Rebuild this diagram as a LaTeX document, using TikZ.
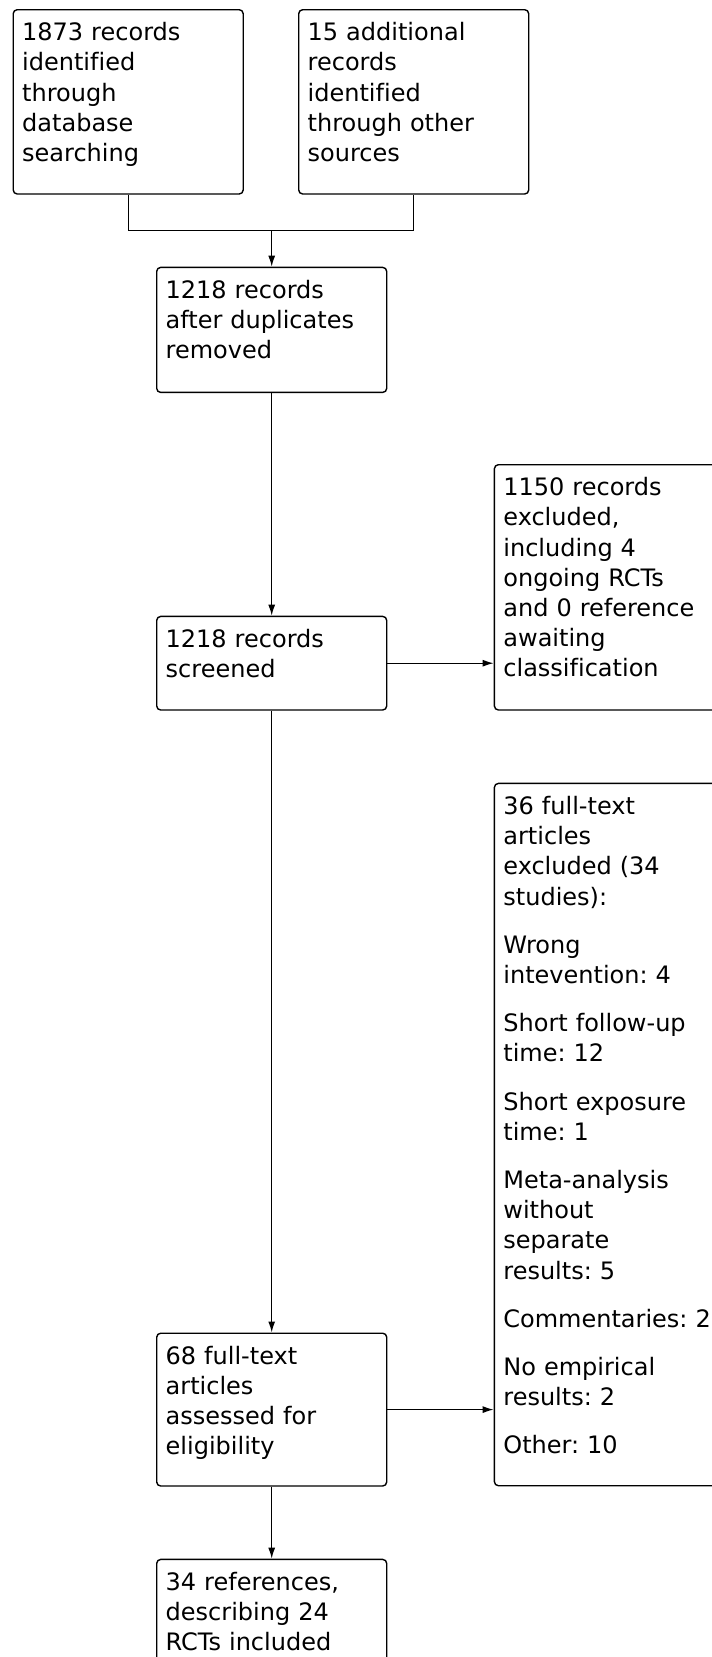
\documentclass[tikz,border=0pt]{standalone}
\usepackage{fontspec}
\setmainfont{DejaVu Sans}[Ligatures=NoCommon]
\usetikzlibrary{arrows.meta}
\frenchspacing

\begin{document}
\begin{tikzpicture}[x=1pt, y=-1pt, line width=1.4pt,
  font=\fontsize{24}{30.2}\selectfont,
  box/.style={draw, rounded corners=4pt, anchor=north west, align=left,
    text width=212pt, inner xsep=9pt, inner ysep=0pt, text height=31pt},
  arr/.style={-{Latex[length=11pt,width=7pt]}}]
\clip (0,0) rectangle (712,1657);

\node[box, text depth=153.3pt] (dbrec) at (12.5,9) {1873 records\\identified\\through\\database\\searching};
\node[box, text depth=153.3pt] (otherrec) at (298,9) {15 additional\\records\\identified\\through other\\sources};
\node[box, text depth=94pt] (dedup) at (156,266.7) {1218 records\\after duplicates\\removed};
\node[box, text depth=62.6pt] (screen) at (156,615.7) {1218 records\\screened};
\node[box, text depth=214.3pt] (excl) at (493.7,464) {1150 records\\excluded,\\including 4\\ongoing RCTs\\and 0 reference\\awaiting\\classification};
\node[box, text depth=121.8pt] (fulltext) at (156,1332.5) {68 full-text\\articles\\assessed for\\eligibility};
\node[box, text depth=671.3pt] (ftexcl) at (493.7,782.7) {36 full-text\\articles\\excluded (34\\studies):\\[18pt]
  Wrong\\intevention: 4\\[18pt]
  Short follow-up\\time: 12\\[18pt]
  Short exposure\\time: 1\\[18pt]
  Meta-analysis\\without\\separate\\results: 5\\[18pt]
  Commentaries: 2\\[18pt]
  No empirical\\results: 2\\[18pt]
  Other: 10};
\node[box, text depth=119pt] (incl) at (156,1558.7) {34 references,\\describing 24\\RCTs included};

\coordinate (join) at (dedup.north |- 0,230.7);
\draw (dbrec.south) |- (join) -| (otherrec.south);
\draw[arr] (join) -- (dedup.north);
\draw[arr] (dedup) -- (screen);
\draw[arr] (screen.east) -- (screen.east -| excl.west);
\draw[arr] (screen) -- (fulltext);
\draw[arr] (fulltext.east) -- (fulltext.east -| ftexcl.west);
\draw[arr] (fulltext) -- (incl);
\end{tikzpicture}
\end{document}
